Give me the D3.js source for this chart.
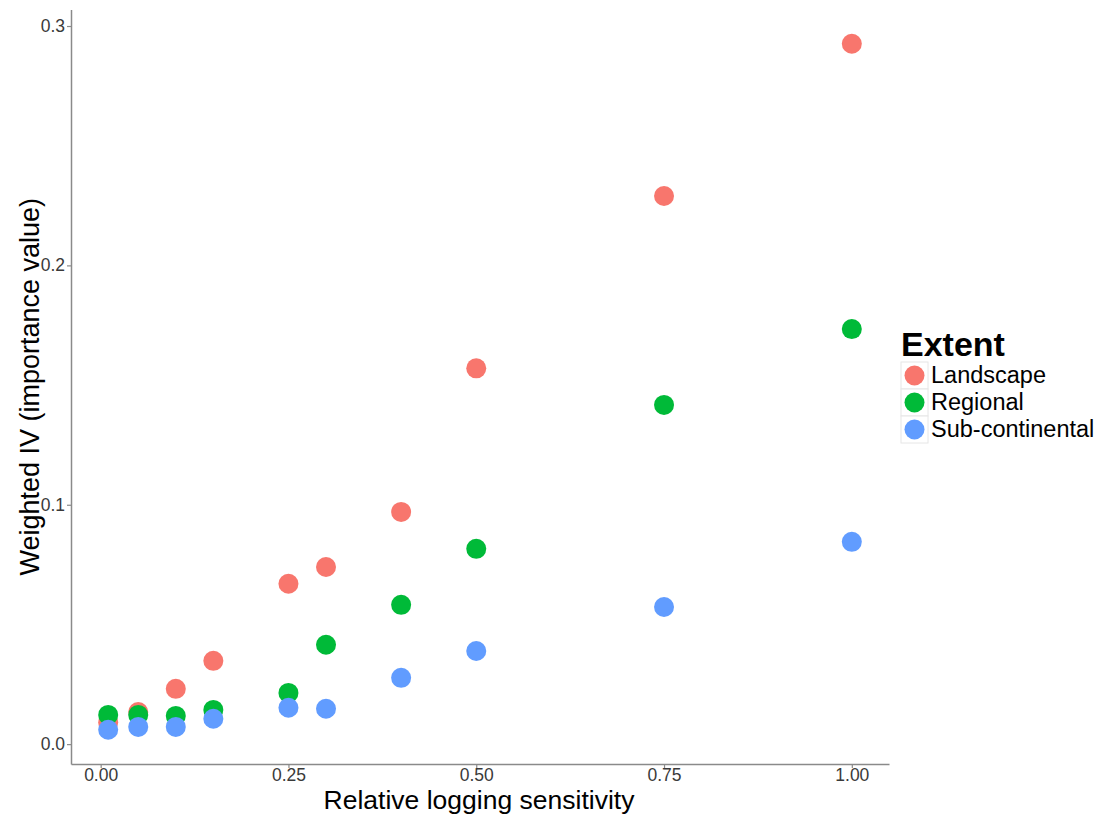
<!DOCTYPE html>
<html><head><meta charset="utf-8">
<script src="https://cdn.jsdelivr.net/npm/d3@7/dist/d3.min.js"></script>
<style>body{margin:0;background:#fff;}svg{display:block;font-family:"Liberation Sans",Arial,sans-serif;}</style>
</head><body>
<script>
const xValues = [0.01, 0.05, 0.10, 0.15, 0.25, 0.30, 0.40, 0.50, 0.75, 1.00];
const landscape = [0.009, 0.0134, 0.0231, 0.0348, 0.067, 0.074, 0.097, 0.157, 0.229, 0.2926];
const regional = [0.0122, 0.0122, 0.0118, 0.0143, 0.0214, 0.0415, 0.0582, 0.0816, 0.1417, 0.1734];
const subContinental = [0.006, 0.0072, 0.0072, 0.0106, 0.0152, 0.0148, 0.0277, 0.0389, 0.0573, 0.0845];
const seriesNames = ["Landscape", "Regional", "Sub-continental"];
const colors = ["#F8766D", "#00BA38", "#619CFF"];
const xTicks = [0, 0.25, 0.5, 0.75, 1.0];
const yTicks = [0, 0.1, 0.2, 0.3];

const W = 1098, H = 814;
const svg = d3.select("body").append("svg").attr("width", W).attr("height", H);
const L = 71, R = 889, T = 9.5, B = 764;
const x = d3.scaleLinear().domain([-0.0395, 1.0495]).range([L, R]);
const y = d3.scaleLinear().domain([-0.0083, 0.3069]).range([B, T]);

const axisColor = "#8a8a8a";
const xa = svg.append("g").attr("transform", `translate(0,${B})`)
  .call(d3.axisBottom(x).tickValues(xTicks).tickFormat(d3.format(".2f")).tickSize(4).tickSizeOuter(0));
const ya = svg.append("g").attr("transform", `translate(${L},0)`)
  .call(d3.axisLeft(y).tickValues(yTicks).tickFormat(d3.format(".1f")).tickSize(4).tickSizeOuter(0));
[xa, ya].forEach(g => {
  g.select(".domain").attr("stroke", axisColor).attr("stroke-width", 1.5);
  g.selectAll(".tick line").attr("stroke", axisColor).attr("stroke-width", 1.2);
  g.selectAll(".tick text").attr("fill", "#3a3a3a").style("font-size", "17.5px")
   .style("font-family", '"Liberation Sans",Arial,sans-serif');
});
xa.selectAll(".tick text").attr("dy", null).attr("y", 17);
ya.selectAll(".tick text").attr("x", -6);

const allSeries = [landscape, regional, subContinental];
allSeries.forEach((vals, si) => {
  svg.append("g").selectAll("circle").data(vals).join("circle")
    .attr("cx", (d, i) => x(xValues[i])).attr("cy", d => y(d))
    .attr("r", 10).attr("fill", colors[si]);
});

svg.append("text").attr("x", 479).attr("y", 809).attr("text-anchor", "middle")
  .style("font-size", "26.5px").attr("fill", "#000").text("Relative logging sensitivity");
svg.append("text").attr("transform", `translate(39,${(T + B) / 2}) rotate(-90)`).attr("text-anchor", "middle")
  .style("font-size", "27px").attr("fill", "#000").text("Weighted IV (importance value)");

// legend
const lg = svg.append("g").attr("transform", "translate(901,0)");
lg.append("text").attr("x", 0).attr("y", 356).style("font-size", "34px").style("font-weight", "bold")
  .attr("fill", "#000").text("Extent");
seriesNames.forEach((n, i) => {
  const y0 = 362 + i * 27;
  lg.append("rect").attr("x", 0).attr("y", y0).attr("width", 27).attr("height", 27)
    .attr("fill", "#fff").attr("stroke", "#e6e6e6").attr("stroke-width", 1);
  lg.append("circle").attr("cx", 13.5).attr("cy", y0 + 13.5).attr("r", 10).attr("fill", colors[i]);
  lg.append("text").attr("x", 30).attr("y", y0 + 21).style("font-size", "23.5px").attr("fill", "#000").text(n);
});
</script>
</body></html>
